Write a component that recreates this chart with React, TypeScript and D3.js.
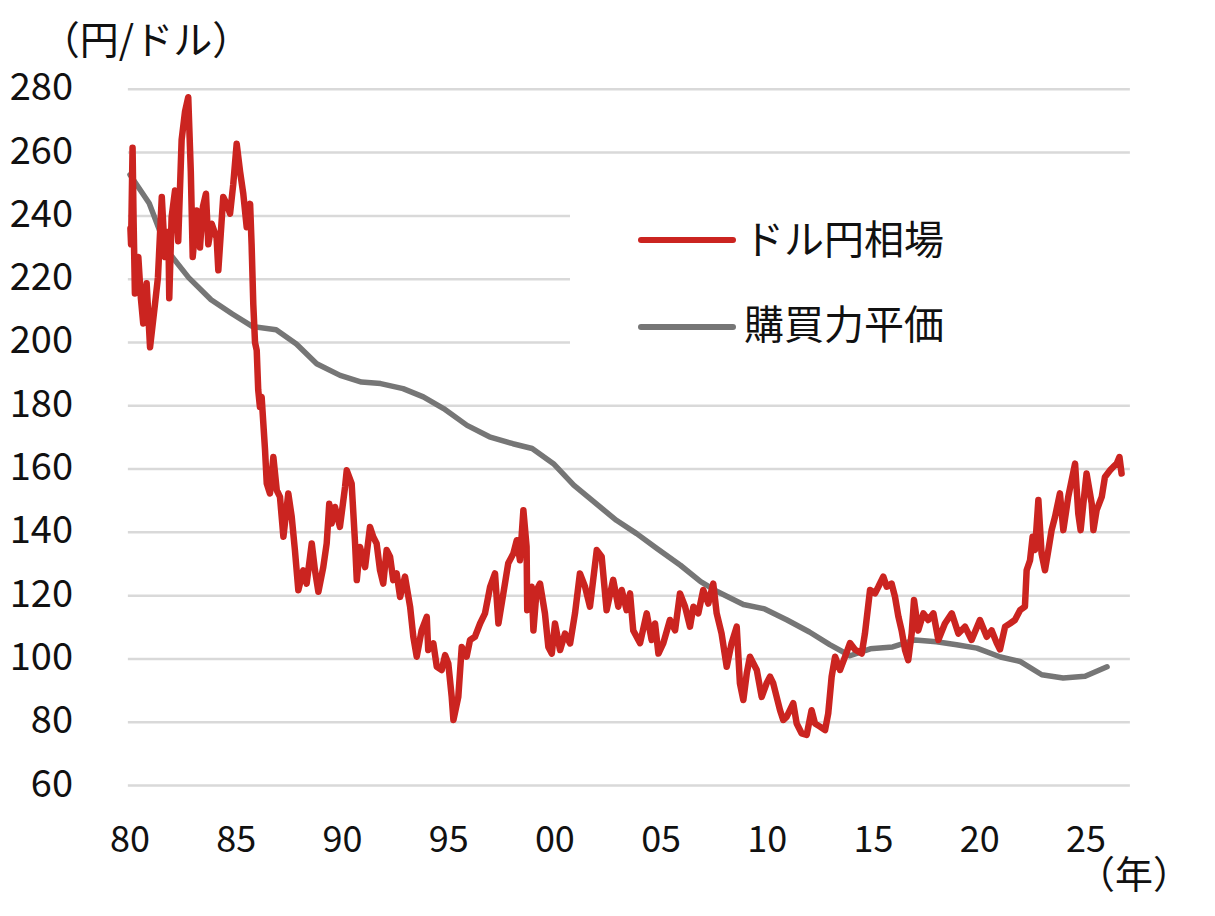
import React from "react";
import * as d3 from "d3";

const WIDTH = 1215;
const HEIGHT = 916;
const FONT = '"Noto Sans CJK JP", "Noto Sans", sans-serif';

const Y_TICKS = [60, 80, 100, 120, 140, 160, 180, 200, 220, 240, 260, 280];
const X_TICK_YEARS = [1980, 1985, 1990, 1995, 2000, 2005, 2010, 2015, 2020, 2025];
const X_TICK_LABELS = ["80", "85", "90", "95", "00", "05", "10", "15", "20", "25"];
const SERIES_NAMES = ["ドル円相場", "購買力平価"];
const Y_UNIT = "（円/ドル）";
const X_UNIT = "（年）";

const COLORS = { fx: "#cb2420", ppp: "#767676", grid: "#d9d9d9", text: "#111111" };

// ドル円相場 [年, 円]
const usdJpy: [number, number][] = [
  [1980.02, 236], [1980.05, 231], [1980.12, 261.5], [1980.17, 238], [1980.23, 215.5],
  [1980.39, 227], [1980.51, 214], [1980.62, 206], [1980.78, 218.7], [1980.94, 198.5],
  [1981.17, 212], [1981.31, 220.6], [1981.49, 246], [1981.64, 227], [1981.8, 235],
  [1981.84, 214], [1981.95, 239.6], [1982.11, 248], [1982.26, 232], [1982.42, 264],
  [1982.58, 273], [1982.73, 277.5], [1982.85, 254], [1982.94, 227], [1983.13, 241.7],
  [1983.28, 230], [1983.42, 243], [1983.56, 247], [1983.67, 231], [1983.83, 237.5],
  [1984.06, 233], [1984.14, 222.8], [1984.37, 246], [1984.53, 243.8], [1984.69, 240.7],
  [1984.84, 250], [1985.0, 262.8], [1985.16, 254], [1985.31, 247], [1985.47, 236.4],
  [1985.63, 243.8], [1985.7, 231], [1985.78, 212], [1985.86, 200], [1985.94, 197.5],
  [1986.01, 185], [1986.09, 179.6], [1986.17, 182.8], [1986.25, 174.4], [1986.33, 166],
  [1986.41, 155.4], [1986.56, 152.3], [1986.72, 163.8], [1986.88, 153.3], [1987.03, 151.2],
  [1987.19, 138.6], [1987.42, 152.3], [1987.58, 144.9], [1987.73, 134.4], [1987.89, 121.7],
  [1988.12, 128], [1988.28, 123.8], [1988.52, 136.5], [1988.67, 128], [1988.83, 121.2],
  [1989.06, 129], [1989.22, 136.5], [1989.34, 149], [1989.45, 142.8], [1989.61, 148],
  [1989.84, 141.7], [1990.08, 154.3], [1990.16, 159.6], [1990.39, 155.4], [1990.55, 136.5],
  [1990.63, 124.9], [1990.78, 135.4], [1991.02, 129], [1991.25, 141.7], [1991.4, 138.6],
  [1991.56, 136.5], [1991.72, 128], [1991.87, 123.8], [1992.03, 134.4], [1992.19, 132.3],
  [1992.34, 124.9], [1992.5, 127], [1992.66, 119.6], [1992.89, 126], [1993.13, 116.5],
  [1993.28, 107], [1993.44, 100.7], [1993.67, 109], [1993.91, 113.3], [1993.98, 102.8],
  [1994.22, 104.9], [1994.38, 97.5], [1994.61, 96.5], [1994.77, 101.2], [1994.92, 98.6],
  [1995.08, 88], [1995.16, 80.7], [1995.39, 88], [1995.55, 103.8], [1995.78, 100.7],
  [1995.94, 106], [1996.17, 107], [1996.41, 111.2], [1996.64, 114.4], [1996.88, 122.8],
  [1997.11, 127], [1997.27, 111.2], [1997.5, 120.7], [1997.73, 130.2], [1997.97, 133.3],
  [1998.13, 137.5], [1998.28, 131.2], [1998.44, 147], [1998.59, 135.4], [1998.62, 115.4],
  [1998.83, 122.8], [1998.91, 109], [1999.06, 121.7], [1999.22, 123.8], [1999.45, 114.4],
  [1999.61, 103.8], [1999.77, 101.7], [1999.92, 111.2], [2000.16, 102.8], [2000.39, 108],
  [2000.63, 104.9], [2000.86, 114.4], [2001.09, 127], [2001.33, 122.8], [2001.56, 116.5],
  [2001.88, 134.4], [2002.11, 132.3], [2002.34, 115.4], [2002.65, 125], [2002.89, 116.5],
  [2003.05, 121.8], [2003.28, 115.4], [2003.44, 120.7], [2003.59, 109], [2003.91, 105],
  [2004.22, 114.4], [2004.45, 106], [2004.61, 111.2], [2004.77, 101.7], [2005.0, 105],
  [2005.31, 112.3], [2005.55, 109], [2005.78, 120.7], [2006.02, 116.5], [2006.25, 110.2],
  [2006.41, 116.5], [2006.64, 114.4], [2006.87, 121.8], [2007.11, 117.5], [2007.34, 123.8],
  [2007.5, 114.4], [2007.73, 108], [2007.97, 97.5], [2008.2, 105], [2008.44, 110.2],
  [2008.59, 92.3], [2008.75, 87], [2008.91, 95.4], [2009.06, 100.7], [2009.38, 96.5],
  [2009.61, 88], [2009.84, 92.3], [2010.0, 94.4], [2010.15, 92.3], [2010.47, 83.8],
  [2010.62, 80.7], [2010.78, 81.7], [2011.09, 86], [2011.25, 79.6], [2011.48, 76.5],
  [2011.72, 76], [2011.95, 83.8], [2012.11, 79.6], [2012.34, 78.6], [2012.58, 77.5],
  [2012.73, 82.8], [2012.89, 94.4], [2013.05, 100.7], [2013.28, 96.5], [2013.52, 100.7],
  [2013.75, 105], [2013.98, 103], [2014.3, 101.7], [2014.45, 108], [2014.69, 121.8],
  [2014.92, 120.7], [2015.08, 122.8], [2015.31, 126], [2015.47, 122.8], [2015.7, 123.8],
  [2015.86, 119.6], [2016.02, 113.3], [2016.17, 109], [2016.33, 102.8], [2016.48, 99.6],
  [2016.64, 108], [2016.75, 118.6], [2016.95, 109], [2017.19, 114.4], [2017.42, 112.3],
  [2017.66, 114.4], [2017.89, 106], [2018.2, 111.2], [2018.52, 114.4], [2018.83, 108],
  [2019.14, 110.2], [2019.45, 106], [2019.84, 112.3], [2020.16, 107], [2020.39, 109],
  [2020.63, 105], [2020.78, 103], [2021.02, 110.2], [2021.25, 111.2], [2021.48, 112.3],
  [2021.72, 115.4], [2021.95, 116.5], [2022.03, 128], [2022.19, 131.2], [2022.31, 138.6],
  [2022.42, 134.4], [2022.58, 150.2], [2022.73, 133.3], [2022.89, 128], [2023.05, 134.4],
  [2023.2, 140.7], [2023.36, 144.9], [2023.59, 152.3], [2023.75, 140.7], [2023.98, 151.2],
  [2024.14, 156.5], [2024.3, 161.7], [2024.45, 145.9], [2024.56, 140.7], [2024.77, 154.3],
  [2024.84, 158.6], [2025.08, 149.1], [2025.16, 140.7], [2025.31, 147], [2025.55, 151.2],
  [2025.7, 157.5], [2025.94, 159.6], [2026.09, 160.7], [2026.25, 161.7], [2026.38, 163.8],
  [2026.48, 158.6],
];

// 購買力平価 [年, 円]
const ppp: [number, number][] = [
  [1980.0, 253], [1980.9, 244], [1981.75, 229], [1982.75, 220.5], [1983.8, 213.5],
  [1984.8, 209], [1985.75, 205], [1986.85, 204], [1987.8, 199.5], [1988.75, 193.3],
  [1989.85, 189.6], [1990.85, 187.5], [1991.75, 187], [1992.8, 185.4], [1993.75, 182.8],
  [1994.7, 179.1], [1995.8, 173.8], [1996.85, 170.2], [1997.95, 168], [1998.85, 166.5],
  [1999.85, 161.7], [2000.8, 154.9], [2001.75, 149.6], [2002.8, 143.8], [2003.75, 139.6],
  [2004.7, 134.9], [2005.8, 129.6], [2006.75, 124.4], [2007.55, 121.2], [2008.75, 117.2],
  [2009.75, 115.8], [2010.8, 112.3], [2011.85, 108.5], [2012.8, 104.5], [2013.75, 101],
  [2014.7, 103.2], [2015.75, 103.8], [2016.8, 106], [2017.8, 105.4], [2018.75, 104.5],
  [2019.7, 103.4], [2020.8, 100.6], [2021.72, 99.2], [2022.74, 95], [2023.74, 94],
  [2024.77, 94.5], [2025.8, 97.5],
];

export default function App() {
  const x = d3.scaleLinear().domain([1980, 2025]).range([130, 1090]);
  const y = d3.scaleLinear().domain([60, 280]).range([785.5, 89.3]);

  const line = d3
    .line<[number, number]>()
    .x((d) => x(d[0]))
    .y((d) => y(d[1]));

  const gridLeft = x(1979.9);
  const gridRight = x(2026.87);

  return (
    <div style={{ position: "absolute", left: 0, top: 0 }}>
      <svg width={WIDTH} height={HEIGHT} style={{ display: "block", background: "#fff" }} fontFamily={FONT}>
        {/* グリッド線 */}
        {Y_TICKS.map((t) => (
          <line key={t} x1={gridLeft} x2={gridRight} y1={y(t)} y2={y(t)} stroke={COLORS.grid} strokeWidth={2.5} />
        ))}

        {/* Y軸ラベル */}
        {Y_TICKS.map((t) => (
          <text key={t} x={73} y={y(t) + 11} textAnchor="end" fontSize={38} fill={COLORS.text}>
            {t}
          </text>
        ))}
        <text x={146} y={54} textAnchor="middle" fontSize={39} fill={COLORS.text}>
          {Y_UNIT}
        </text>

        {/* X軸ラベル */}
        {X_TICK_YEARS.map((yr, i) => (
          <text key={yr} x={x(yr) - (i / 9) * 4} y={852} textAnchor="middle" fontSize={36} fill={COLORS.text}>
            {X_TICK_LABELS[i]}
          </text>
        ))}
        <text x={1134} y={888} textAnchor="middle" fontSize={38} fill={COLORS.text}>
          {X_UNIT}
        </text>

        {/* 凡例の背景 */}
        <rect x={570} y={185} width={gridRight - 570 + 2} height={185} fill="#fff" />

        {/* 系列 */}
        <path d={line(ppp) ?? ""} fill="none" stroke={COLORS.ppp} strokeWidth={5.5} strokeLinejoin="round" strokeLinecap="round" />
        <path d={line(usdJpy) ?? ""} fill="none" stroke={COLORS.fx} strokeWidth={6.5} strokeLinejoin="round" strokeLinecap="round" />

        {/* 凡例 */}
        <g>
          <line x1={641} x2={733} y1={240} y2={240} stroke={COLORS.fx} strokeWidth={6} strokeLinecap="round" />
          <text x={744} y={254} fontSize={40} fill={COLORS.text}>
            {SERIES_NAMES[0]}
          </text>
          <line x1={641} x2={733} y1={327} y2={327} stroke={COLORS.ppp} strokeWidth={6} strokeLinecap="round" />
          <text x={744} y={339} fontSize={40} fill={COLORS.text}>
            {SERIES_NAMES[1]}
          </text>
        </g>
      </svg>
    </div>
  );
}
